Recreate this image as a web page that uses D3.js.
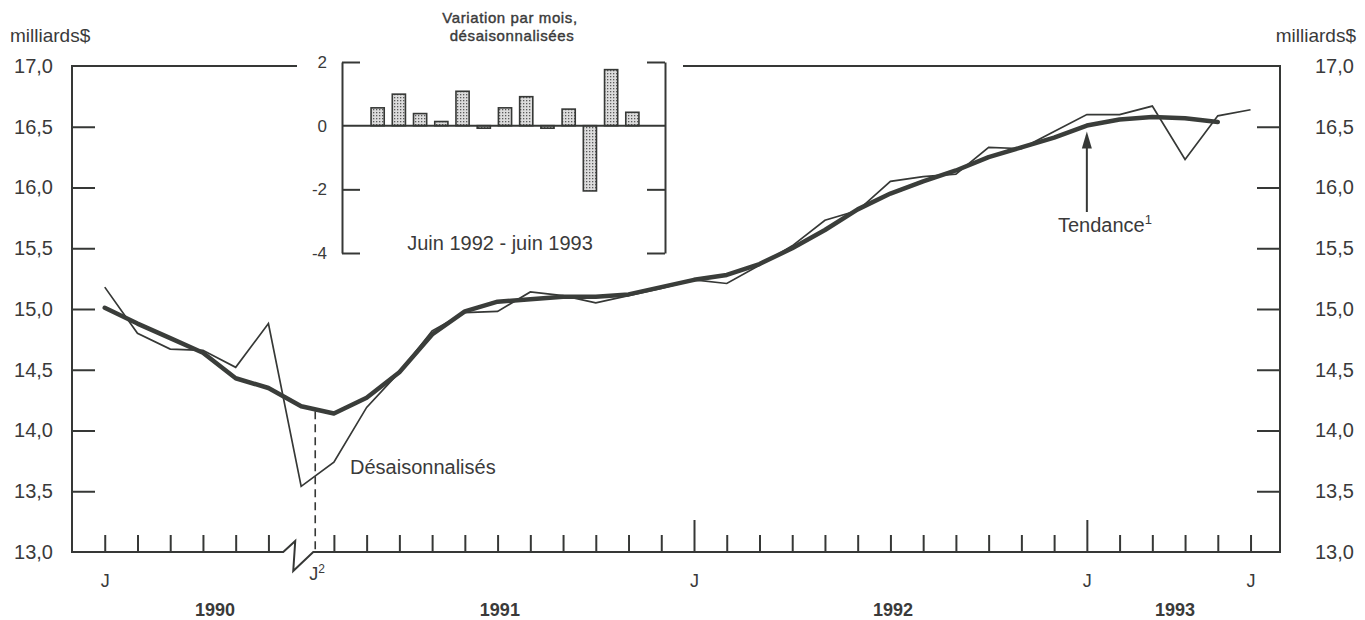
<!DOCTYPE html>
<html>
<head>
<meta charset="utf-8">
<script src="https://cdn.jsdelivr.net/npm/d3@7"></script>
<style>
  html, body { margin: 0; padding: 0; background: #ffffff; }
  svg text { font-family: "Liberation Sans", Arial, Helvetica, sans-serif; fill: #3a3a3a; }
</style>
</head>
<body>
<svg id="chart" width="1365" height="620"></svg>
<script>
// Monthly retail sales, billions of dollars (July 1990 - June 1993)
const months = [
  "1990-07","1990-08","1990-09","1990-10","1990-11","1990-12",
  "1991-01","1991-02","1991-03","1991-04","1991-05","1991-06",
  "1991-07","1991-08","1991-09","1991-10","1991-11","1991-12",
  "1992-01","1992-02","1992-03","1992-04","1992-05","1992-06",
  "1992-07","1992-08","1992-09","1992-10","1992-11","1992-12",
  "1993-01","1993-02","1993-03","1993-04","1993-05","1993-06"
];
const seasonallyAdjusted = [
  15.18, 14.80, 14.67, 14.66, 14.52, 14.88,
  13.54, 13.74, 14.19, 14.48, 14.82, 14.97,
  14.98, 15.14, 15.11, 15.05, 15.11, 15.17,
  15.24, 15.21, 15.36, 15.52, 15.73, 15.81,
  16.05, 16.09, 16.11, 16.33, 16.32, 16.46,
  16.60, 16.60, 16.67, 16.23, 16.59, 16.64
];
const trend = [
  15.01, 14.88, 14.76, 14.64, 14.43, 14.35,
  14.20, 14.14, 14.27, 14.48, 14.79, 14.98,
  15.06, 15.08, 15.10, 15.10, 15.12, 15.18,
  15.24, 15.28, 15.37, 15.50, 15.65, 15.82,
  15.95, 16.05, 16.14, 16.25, 16.33, 16.41,
  16.51, 16.56, 16.58, 16.57, 16.54
];

const yTicks = [13.0, 13.5, 14.0, 14.5, 15.0, 15.5, 16.0, 16.5, 17.0];
const yTickLabels = ["13,0","13,5","14,0","14,5","15,0","15,5","16,0","16,5","17,0"];

// month ticks (index into months); January 1991 sits on the series break
const monthTickIndex = [0,1,2,3,4,5,7,8,9,10,11,12,13,14,15,16,17,18,19,20,21,22,23,24,25,26,27,28,29,30,31,32,33,34,35];
const tallTickIndex = [18, 30];
const monthLabelIndex = [0, 18, 30, 35];
const monthLabelText = ["J", "J", "J", "J"];
const breakIndex = 6.43;          // position of the J² marker
const breakLabel = "J";
const breakNote = "2";

const years = ["1990", "1991", "1992", "1993"];
const yearIndex = [3.37, 12.07, 24.08, 32.69];

// Inset: monthly % change, seasonally adjusted, June 1992 - June 1993
const insetMonths = ["juin","juil","août","sept","oct","nov","déc","janv","févr","mars","avr","mai","juin93"];
const insetChange = [0.56, 0.99, 0.38, 0.13, 1.08, -0.08, 0.56, 0.91, -0.08, 0.52, -2.05, 1.76, 0.42];
const insetTicks = [2, 0, -2, -4];
const insetTickLabels = ["2", "0", "-2", "-4"];

const ink = "#363836";
const svg = d3.select("#chart");

const frame = { left: 72, right: 1280, top: 66, bottom: 552 };
const x = d3.scaleLinear().domain([-1, 35.9]).range([frame.left, frame.right]);
const y = d3.scaleLinear().domain([13, 17]).range([frame.bottom, frame.top]);

// stipple fill for the inset bars
const defs = svg.append("defs");
const pat = defs.append("pattern").attr("id", "stipple")
  .attr("width", 3).attr("height", 3).attr("patternUnits", "userSpaceOnUse");
pat.append("rect").attr("width", 3).attr("height", 3).attr("fill", "#dcdcdc");
pat.append("rect").attr("x", 1).attr("y", 1).attr("width", 1.3).attr("height", 1.3).attr("fill", "#5a5a5a");

// ---- frame ----
const g = svg.append("g");
g.append("line").attr("x1", frame.left).attr("x2", frame.left).attr("y1", frame.top).attr("y2", frame.bottom)
  .attr("stroke", ink).attr("stroke-width", 2);
g.append("line").attr("x1", frame.right).attr("x2", frame.right).attr("y1", frame.top).attr("y2", frame.bottom)
  .attr("stroke", ink).attr("stroke-width", 2);
// top edge, interrupted by the inset
g.append("line").attr("x1", frame.left - 1).attr("x2", 297).attr("y1", frame.top).attr("y2", frame.top)
  .attr("stroke", ink).attr("stroke-width", 2);
g.append("line").attr("x1", 683).attr("x2", frame.right + 1).attr("y1", frame.top).attr("y2", frame.top)
  .attr("stroke", ink).attr("stroke-width", 2);

// bottom edge with the break symbol
const bx = x(breakIndex);
const bottomPath = d3.path();
bottomPath.moveTo(frame.left - 1, frame.bottom);
bottomPath.lineTo(bx - 32, frame.bottom);
bottomPath.lineTo(bx - 20, frame.bottom - 11);
bottomPath.lineTo(bx - 22, frame.bottom + 19);
bottomPath.lineTo(bx - 2, frame.bottom);
bottomPath.lineTo(frame.right + 1, frame.bottom);
g.append("path").attr("d", bottomPath.toString()).attr("fill", "none")
  .attr("stroke", ink).attr("stroke-width", 2).attr("stroke-linejoin", "miter");

// y ticks (inward) on both sides
const innerTicks = yTicks.slice(1, -1);
g.append("g").attr("transform", `translate(${frame.left},0)`)
  .call(d3.axisRight(y).tickValues(innerTicks).tickSize(23).tickFormat(""))
  .call(s => { s.select(".domain").remove(); s.selectAll("line").attr("stroke", ink).attr("stroke-width", 2); });
g.append("g").attr("transform", `translate(${frame.right},0)`)
  .call(d3.axisLeft(y).tickValues(innerTicks).tickSize(23).tickFormat(""))
  .call(s => { s.select(".domain").remove(); s.selectAll("line").attr("stroke", ink).attr("stroke-width", 2); });

// y labels
const yLabelFmt = d => yTickLabels[yTicks.indexOf(d)];
g.append("g").attr("transform", `translate(${frame.left},0)`)
  .call(d3.axisLeft(y).tickValues(yTicks).tickSize(0).tickPadding(19).tickFormat(yLabelFmt))
  .call(s => { s.select(".domain").remove(); s.selectAll("text").attr("font-size", 20).attr("fill", "#3a3a3a").attr("font-family", null); });
g.append("g").attr("transform", `translate(${frame.right},0)`)
  .call(d3.axisRight(y).tickValues(yTicks).tickSize(0).tickPadding(35).tickFormat(yLabelFmt))
  .call(s => { s.select(".domain").remove(); s.selectAll("text").attr("font-size", 20).attr("fill", "#3a3a3a").attr("font-family", null); });

g.append("text").attr("x", 10).attr("y", 42).attr("font-size", 19).text("milliards$");
g.append("text").attr("x", 1356).attr("y", 42).attr("font-size", 19).attr("text-anchor", "end").text("milliards$");

// month ticks (upward from the bottom edge)
const regularTicks = monthTickIndex.filter(i => !tallTickIndex.includes(i));
g.append("g").attr("transform", `translate(0,${frame.bottom})`)
  .call(d3.axisTop(x).tickValues(regularTicks).tickSize(17).tickFormat(""))
  .call(s => { s.select(".domain").remove(); s.selectAll("line").attr("stroke", ink).attr("stroke-width", 2); });
g.append("g").attr("transform", `translate(0,${frame.bottom})`)
  .call(d3.axisTop(x).tickValues(tallTickIndex).tickSize(32).tickFormat(""))
  .call(s => { s.select(".domain").remove(); s.selectAll("line").attr("stroke", ink).attr("stroke-width", 2); });

// month labels
g.append("g").attr("transform", `translate(0,${frame.bottom})`)
  .call(d3.axisBottom(x).tickValues(monthLabelIndex).tickSize(0).tickPadding(22)
    .tickFormat((d, i) => monthLabelText[i]))
  .call(s => { s.select(".domain").remove(); s.selectAll("text").attr("font-size", 18).attr("fill", "#3a3a3a").attr("font-family", null); });

// J² marker at the series break
const jt = g.append("text").attr("x", bx - 6).attr("y", 580).attr("font-size", 18);
jt.append("tspan").text(breakLabel);
jt.append("tspan").attr("font-size", 12).attr("dy", -7).text(breakNote);

// year labels
g.append("g").selectAll("text").data(years).join("text")
  .attr("x", (d, i) => x(yearIndex[i])).attr("y", 616)
  .attr("text-anchor", "middle").attr("font-size", 18).attr("font-weight", "bold")
  .text(d => d);

// dashed line from the trend down to the axis at the break
const i0 = Math.floor(breakIndex);
const tBreak = trend[i0] + (trend[i0 + 1] - trend[i0]) * (breakIndex - i0);
g.append("line").attr("x1", bx).attr("x2", bx).attr("y1", y(tBreak) + 2).attr("y2", frame.bottom)
  .attr("stroke", ink).attr("stroke-width", 1.6).attr("stroke-dasharray", "8,5");

// ---- series ----
const line = d3.line().x((d, i) => x(i)).y(d => y(d));
g.append("path").datum(seasonallyAdjusted).attr("d", line)
  .attr("fill", "none").attr("stroke", ink).attr("stroke-width", 1.7).attr("stroke-linejoin", "miter");
g.append("path").datum(trend).attr("d", line)
  .attr("fill", "none").attr("stroke", "#3a3d3a").attr("stroke-width", 4.5)
  .attr("stroke-linejoin", "round").attr("stroke-linecap", "round");

// annotations
g.append("text").attr("x", 350).attr("y", 474).attr("font-size", 20).text("Désaisonnalisés");
const tt = g.append("text").attr("x", 1058).attr("y", 232).attr("font-size", 20);
tt.append("tspan").text("Tendance");
tt.append("tspan").attr("font-size", 13).attr("dy", -8).text("1");

const ax = x(30);
const tipY = y(trend[30]) + 6;
g.append("line").attr("x1", ax).attr("x2", ax).attr("y1", 212).attr("y2", tipY + 12)
  .attr("stroke", ink).attr("stroke-width", 2);
g.append("path")
  .attr("d", `M${ax},${tipY} L${ax - 5},${tipY + 17} L${ax + 5},${tipY + 17} Z`)
  .attr("fill", ink);

// ---- inset ----
const inset = svg.append("g");
const yIn = d3.scaleLinear().domain([-4, 2]).range([253, 62]);
const xIn = d3.scaleBand().domain(insetMonths).range([363, 647]).padding(0.38);
const inL = 342, inR = 665;

inset.append("g").attr("transform", `translate(${inL},0)`)
  .call(d3.axisRight(yIn).tickValues([2, -2, -4]).tickSize(18).tickSizeOuter(0).tickFormat(""))
  .call(s => { s.selectAll("line,path").attr("stroke", ink).attr("stroke-width", 2); });
inset.append("g").attr("transform", `translate(${inR},0)`)
  .call(d3.axisLeft(yIn).tickValues([2, -2, -4]).tickSize(18).tickSizeOuter(0).tickFormat(""))
  .call(s => { s.selectAll("line,path").attr("stroke", ink).attr("stroke-width", 2); });
inset.append("g").attr("transform", `translate(${inL},0)`)
  .call(d3.axisLeft(yIn).tickValues(insetTicks).tickSize(0).tickPadding(15)
    .tickFormat((d, i) => insetTickLabels[i]))
  .call(s => { s.select(".domain").remove(); s.selectAll("text").attr("font-size", 17).attr("fill", "#3a3a3a").attr("font-family", null); });

inset.append("g").selectAll("rect").data(insetChange).join("rect")
  .attr("x", (d, i) => xIn(insetMonths[i]))
  .attr("width", xIn.bandwidth())
  .attr("y", d => yIn(Math.max(0, d)))
  .attr("height", d => Math.abs(yIn(d) - yIn(0)))
  .attr("fill", "url(#stipple)").attr("stroke", ink).attr("stroke-width", 1.6);

inset.append("line").attr("x1", inL).attr("x2", inR).attr("y1", yIn(0)).attr("y2", yIn(0))
  .attr("stroke", ink).attr("stroke-width", 2);

inset.append("text").attr("x", 510).attr("y", 23).attr("text-anchor", "middle")
  .attr("font-size", 15).attr("letter-spacing", 0.6)
  .attr("stroke", "#3a3a3a").attr("stroke-width", 0.4).text("Variation par mois,");
inset.append("text").attr("x", 512).attr("y", 41).attr("text-anchor", "middle")
  .attr("font-size", 15).attr("letter-spacing", 0.6)
  .attr("stroke", "#3a3a3a").attr("stroke-width", 0.4).text("désaisonnalisées");
inset.append("text").attr("x", 500).attr("y", 250).attr("text-anchor", "middle")
  .attr("font-size", 20).text("Juin 1992 - juin 1993");
</script>
</body>
</html>
